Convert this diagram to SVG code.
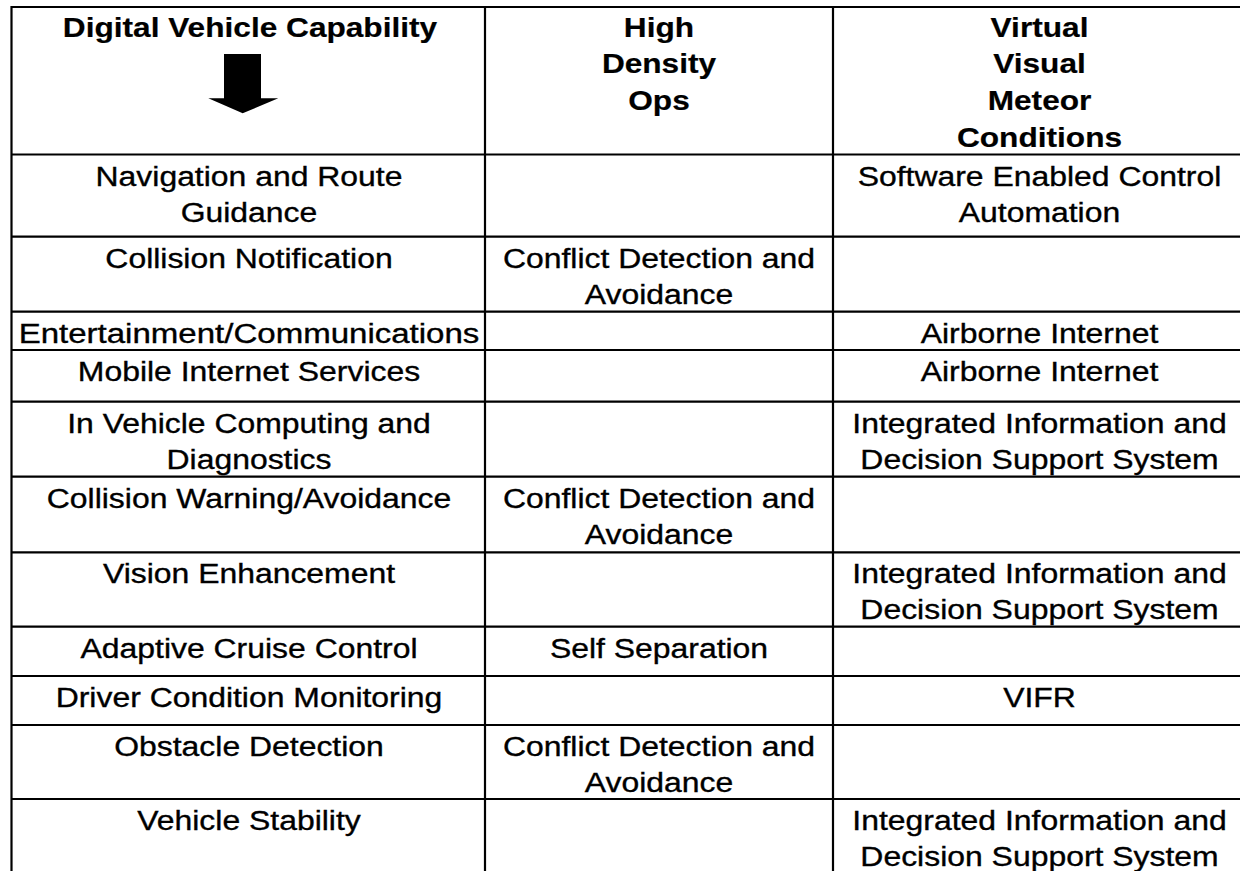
<svg xmlns="http://www.w3.org/2000/svg" width="1240" height="871" viewBox="0 0 1240 871">
<style>
text{font-family:"Liberation Sans",Arial,sans-serif;font-size:28px;fill:#000;stroke:#000;stroke-width:0.35;text-anchor:middle}
.h{font-weight:bold;stroke-width:0.2}
.grid line{stroke:#000;stroke-width:2.2}
</style>
<rect width="1240" height="871" fill="#fff"/>
<g id="grid" class="grid">
<line x1="11.5" y1="7" x2="1246" y2="7"/>
<line x1="11.5" y1="154.5" x2="1246" y2="154.5"/>
<line x1="11.5" y1="236.7" x2="1246" y2="236.7"/>
<line x1="11.5" y1="311.7" x2="1246" y2="311.7"/>
<line x1="11.5" y1="350" x2="1246" y2="350"/>
<line x1="11.5" y1="401.7" x2="1246" y2="401.7"/>
<line x1="11.5" y1="476.7" x2="1246" y2="476.7"/>
<line x1="11.5" y1="552.3" x2="1246" y2="552.3"/>
<line x1="11.5" y1="626.7" x2="1246" y2="626.7"/>
<line x1="11.5" y1="676" x2="1246" y2="676"/>
<line x1="11.5" y1="725" x2="1246" y2="725"/>
<line x1="11.5" y1="799" x2="1246" y2="799"/>
<line x1="11.5" y1="6" x2="11.5" y2="880"/>
<line x1="485" y1="6" x2="485" y2="880"/>
<line x1="833" y1="6" x2="833" y2="880"/>
<line x1="1246" y1="6" x2="1246" y2="880"/>
</g>
<g id="hdr1">
<text class="h" transform="translate(250,37) scale(1.13,1)">Digital Vehicle Capability</text>
<polygon points="224,54 261,54 261,98.3 278.3,98.3 242.7,113.3 208.3,98.3 224,98.3" fill="#000"/>
</g>
<g id="hdr2">
<text class="h" transform="translate(659,36.7) scale(1.13,1)">High</text>
<text class="h" transform="translate(659,73.3) scale(1.13,1)">Density</text>
<text class="h" transform="translate(659,110) scale(1.13,1)">Ops</text>
</g>
<g id="hdr3">
<text class="h" transform="translate(1039.5,36.7) scale(1.13,1)">Virtual</text>
<text class="h" transform="translate(1039.5,73.3) scale(1.13,1)">Visual</text>
<text class="h" transform="translate(1039.5,110) scale(1.13,1)">Meteor</text>
<text class="h" transform="translate(1039.5,146.7) scale(1.13,1)">Conditions</text>
</g>
<g id="r1">
<text transform="translate(249,186) scale(1.14,1)">Navigation and Route</text>
<text transform="translate(249,222) scale(1.14,1)">Guidance</text>
<text transform="translate(1039.5,186) scale(1.14,1)">Software Enabled Control</text>
<text transform="translate(1039.5,222) scale(1.14,1)">Automation</text>
</g>
<g id="r2">
<text transform="translate(249,268) scale(1.14,1)">Collision Notification</text>
<text transform="translate(659,268) scale(1.14,1)">Conflict Detection and</text>
<text transform="translate(659,304) scale(1.14,1)">Avoidance</text>
</g>
<g id="r3">
<text transform="translate(249,343) scale(1.18,1)">Entertainment/Communications</text>
<text transform="translate(1039.5,343) scale(1.14,1)">Airborne Internet</text>
</g>
<g id="r4">
<text transform="translate(249,381) scale(1.14,1)">Mobile Internet Services</text>
<text transform="translate(1039.5,381) scale(1.14,1)">Airborne Internet</text>
</g>
<g id="r5">
<text transform="translate(249,433) scale(1.14,1)">In Vehicle Computing and</text>
<text transform="translate(249,469) scale(1.14,1)">Diagnostics</text>
<text transform="translate(1039.5,433) scale(1.14,1)">Integrated Information and</text>
<text transform="translate(1039.5,469) scale(1.14,1)">Decision Support System</text>
</g>
<g id="r6">
<text transform="translate(249,508) scale(1.14,1)">Collision Warning/Avoidance</text>
<text transform="translate(659,508) scale(1.14,1)">Conflict Detection and</text>
<text transform="translate(659,544) scale(1.14,1)">Avoidance</text>
</g>
<g id="r7">
<text transform="translate(249,583) scale(1.14,1)">Vision Enhancement</text>
<text transform="translate(1039.5,583) scale(1.14,1)">Integrated Information and</text>
<text transform="translate(1039.5,619) scale(1.14,1)">Decision Support System</text>
</g>
<g id="r8">
<text transform="translate(249,658) scale(1.14,1)">Adaptive Cruise Control</text>
<text transform="translate(659,658) scale(1.14,1)">Self Separation</text>
</g>
<g id="r9">
<text transform="translate(249,707) scale(1.14,1)">Driver Condition Monitoring</text>
<text transform="translate(1039.5,707) scale(1.14,1)">VIFR</text>
</g>
<g id="r10">
<text transform="translate(249,756) scale(1.14,1)">Obstacle Detection</text>
<text transform="translate(659,756) scale(1.14,1)">Conflict Detection and</text>
<text transform="translate(659,792) scale(1.14,1)">Avoidance</text>
</g>
<g id="r11">
<text transform="translate(249,830) scale(1.14,1)">Vehicle Stability</text>
<text transform="translate(1039.5,830) scale(1.14,1)">Integrated Information and</text>
<text transform="translate(1039.5,866) scale(1.14,1)">Decision Support System</text>
</g>
</svg>
